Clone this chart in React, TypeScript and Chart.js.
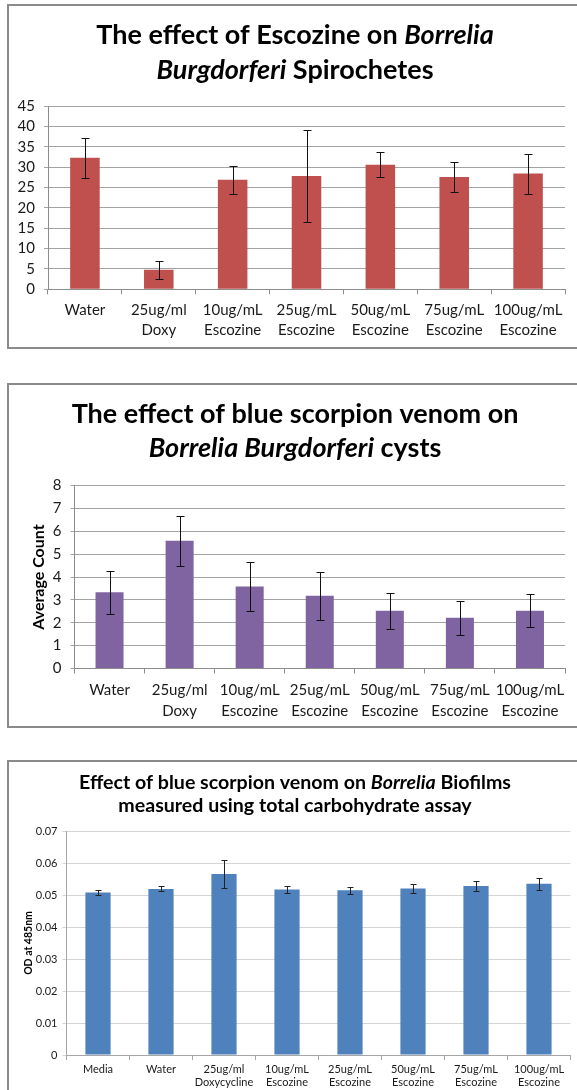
import React, { useEffect, useRef } from "react";
import { Chart, registerables } from "chart.js";

Chart.register(...registerables);

const FONT = "Lato, 'Open Sans', sans-serif";

// ---------- Chart 1: Spirochetes ----------
const spiroLabels = [
  ["Water"],
  ["25ug/ml", "Doxy"],
  ["10ug/mL", "Escozine"],
  ["25ug/mL", "Escozine"],
  ["50ug/mL", "Escozine"],
  ["75ug/mL", "Escozine"],
  ["100ug/mL", "Escozine"],
];
const spiroValues = [32.3, 4.8, 26.9, 27.8, 30.6, 27.6, 28.4];
const spiroErrors = [4.9, 2.2, 3.4, 11.2, 3.1, 3.7, 4.9];
const spiroTicks = ["0", "5", "10", "15", "20", "25", "30", "35", "40", "45"];
const spiroTitle = [
  [
    { text: "The effect of Escozine on ", italic: false },
    { text: "Borrelia", italic: true },
  ],
  [
    { text: "Burgdorferi", italic: true },
    { text: " Spirochetes", italic: false },
  ],
];

// ---------- Chart 2: Cysts ----------
const cystLabels = [
  ["Water"],
  ["25ug/ml", "Doxy"],
  ["10ug/mL", "Escozine"],
  ["25ug/mL", "Escozine"],
  ["50ug/mL", "Escozine"],
  ["75ug/mL", "Escozine"],
  ["100ug/mL", "Escozine"],
];
const cystValues = [3.33, 5.58, 3.59, 3.18, 2.53, 2.22, 2.53];
const cystErrors = [0.94, 1.1, 1.06, 1.04, 0.79, 0.74, 0.71];
const cystTicks = ["0", "1", "2", "3", "4", "5", "6", "7", "8"];
const cystYTitle = "Average Count";
const cystTitle = [
  [{ text: "The effect of blue scorpion venom on", italic: false }],
  [
    { text: "Borrelia Burgdorferi", italic: true },
    { text: " cysts", italic: false },
  ],
];

// ---------- Chart 3: Biofilms ----------
const bioLabels = [
  ["Media"],
  ["Water"],
  ["25ug/ml", "Doxycycline"],
  ["10ug/mL", "Escozine"],
  ["25ug/mL", "Escozine"],
  ["50ug/mL", "Escozine"],
  ["75ug/mL", "Escozine"],
  ["100ug/mL", "Escozine"],
];
const bioValues = [0.0508, 0.0519, 0.0566, 0.0517, 0.0515, 0.052, 0.0528, 0.0535];
const bioErrors = [0.0008, 0.0008, 0.0044, 0.0012, 0.0011, 0.0015, 0.0017, 0.0018];
const bioTicks = ["0", "0.01", "0.02", "0.03", "0.04", "0.05", "0.06", "0.07"];
const bioYTitle = "OD at 485nm";
const bioTitle = [
  [
    { text: "Effect of blue scorpion venom on ", italic: false },
    { text: "Borrelia", italic: true },
    { text: " Biofilms", italic: false },
  ],
  [{ text: "measured using total carbohydrate assay", italic: false }],
];

// ---------- plugins ----------
const richTitle = {
  id: "richTitle",
  afterDraw(chart: any, _a: any, opts: any) {
    const ctx = chart.ctx;
    ctx.save();
    ctx.fillStyle = opts.color;
    ctx.textBaseline = "alphabetic";
    ctx.textAlign = "left";
    opts.lines.forEach((segs: any[], i: number) => {
      const fonts = segs.map(
        (s) => `${s.italic ? "italic " : ""}bold ${opts.size}px ${opts.family}`
      );
      const widths = segs.map((s, j) => {
        ctx.font = fonts[j];
        return ctx.measureText(s.text).width;
      });
      const total = widths.reduce((a: number, b: number) => a + b, 0);
      let x = opts.centerX - total / 2;
      segs.forEach((s, j) => {
        ctx.font = fonts[j];
        ctx.fillText(s.text, x, opts.baselines[i]);
        x += widths[j];
      });
    });
    ctx.restore();
  },
};

const errorBars = {
  id: "errorBars",
  afterDatasetsDraw(chart: any, _a: any, opts: any) {
    const meta = chart.getDatasetMeta(0);
    const yScale = chart.scales.y;
    const ctx = chart.ctx;
    const data = chart.data.datasets[0].data;
    ctx.save();
    ctx.strokeStyle = opts.color;
    ctx.lineWidth = opts.width;
    meta.data.forEach((bar: any, i: number) => {
      const v = data[i];
      const e = opts.errors[i];
      const top = Math.round(yScale.getPixelForValue(v + e)) + 0.5;
      const bot = Math.round(yScale.getPixelForValue(v - e)) + 0.5;
      const x = Math.round(bar.x) + 0.5;
      const h = opts.cap / 2;
      ctx.beginPath();
      ctx.moveTo(x, top);
      ctx.lineTo(x, bot);
      ctx.moveTo(x - h, top);
      ctx.lineTo(x + h, top);
      ctx.moveTo(x - h, bot);
      ctx.lineTo(x + h, bot);
      ctx.stroke();
    });
    ctx.restore();
  },
};

type Spec = {
  labels: string[][];
  values: number[];
  errors: number[];
  ticks: string[];
  max: number;
  step: number;
  color: string;
  title: any[];
  titleSize: number;
  baselines: number[];
  yTitle?: string;
  yTitleSize?: number;
  yTitlePad?: number;
  yWidth: number;
  xHeight: number;
  padRight: number;
  padTop: number;
  tickSize: number;
  tickPad: number;
  tickLen: number;
  xLineHeight: number;
  xPad: number;
  gridColor: string;
  axisColor: string;
  errColor: string;
  cap: number;
  width: number;
  height: number;
};

function makeConfig(s: Spec): any {
  return {
    type: "bar",
    data: {
      labels: s.labels,
      datasets: [
        {
          data: s.values,
          backgroundColor: s.color,
          borderWidth: 0,
          categoryPercentage: 1,
          barPercentage: 0.4,
        },
      ],
    },
    plugins: [richTitle, errorBars],
    options: {
      responsive: false,
      animation: false,
      devicePixelRatio: 1,
      layout: { padding: { left: 0, right: s.padRight, top: s.padTop, bottom: 0 } },
      plugins: {
        legend: { display: false },
        tooltip: { enabled: false },
        title: { display: false },
        richTitle: {
          lines: s.title,
          size: s.titleSize,
          family: FONT,
          color: "#000",
          centerX: 286,
          baselines: s.baselines,
        },
        errorBars: { errors: s.errors, color: s.errColor, width: 1, cap: s.cap },
      },
      scales: {
        x: {
          offset: true,
          grid: {
            offset: true,
            drawOnChartArea: false,
            drawTicks: true,
            tickLength: s.tickLen + 1,
            color: s.axisColor,
          },
          border: { display: true, color: s.axisColor, width: 1 },
          ticks: {
            color: "#1a1a1a",
            padding: s.xPad,
            maxRotation: 0,
            autoSkip: false,
            font: { family: FONT, size: s.tickSize, lineHeight: `${s.xLineHeight}px` },
          },
          afterFit: (sc: any) => {
            sc.height = s.xHeight;
          },
        },
        y: {
          min: 0,
          max: s.max,
          grid: { color: s.gridColor, tickLength: s.tickLen, lineWidth: 1 },
          border: { display: true, color: s.axisColor, width: 1 },
          ticks: {
            stepSize: s.step,
            autoSkip: false,
            color: "#1a1a1a",
            padding: s.tickPad,
            font: { family: FONT, size: s.tickSize },
            callback: (_v: any, i: number) => s.ticks[i],
          },
          title: s.yTitle
            ? {
                display: true,
                text: s.yTitle,
                color: "#000",
                font: { family: FONT, size: s.yTitleSize, weight: "bold", lineHeight: 1.2 },
                padding: { top: s.yTitlePad, bottom: 0 },
              }
            : { display: false },
          afterFit: (sc: any) => {
            sc.width = s.yWidth;
          },
        },
      },
    },
  };
}

function ChartBox({ spec, top }: { spec: Spec; top: number }) {
  const ref = useRef<HTMLCanvasElement | null>(null);
  useEffect(() => {
    if (!ref.current) return;
    const chart = new Chart(ref.current, makeConfig(spec));
    return () => chart.destroy();
  }, [spec]);
  return (
    <div
      style={{
        position: "absolute",
        left: 7,
        top,
        width: spec.width,
        height: spec.height,
        border: "2px solid #8a8a8a",
        background: "#fff",
      }}
    >
      <canvas
        ref={ref}
        width={spec.width}
        height={spec.height}
        style={{ display: "block", width: spec.width, height: spec.height }}
      />
    </div>
  );
}

const spec1: Spec = {
  labels: spiroLabels,
  values: spiroValues,
  errors: spiroErrors,
  ticks: spiroTicks,
  max: 45,
  step: 5,
  color: "#C0504D",
  title: spiroTitle,
  titleSize: 27,
  baselines: [37.5, 72.5],
  yWidth: 39,
  xHeight: 57.7,
  padRight: 44,
  padTop: 100,
  tickSize: 15,
  tickPad: 9,
  tickLen: 4,
  xLineHeight: 20,
  xPad: 6,
  gridColor: "#a3a3a3",
  axisColor: "#8c8c8c",
  errColor: "#111",
  cap: 8,
  width: 600,
  height: 341,
};

const spec2: Spec = {
  labels: cystLabels,
  values: cystValues,
  errors: cystErrors,
  ticks: cystTicks,
  max: 8,
  step: 1,
  color: "#8064A2",
  title: cystTitle,
  titleSize: 27,
  baselines: [37.5, 72],
  yTitle: cystYTitle,
  yTitleSize: 16,
  yTitlePad: 20.4,
  yWidth: 65.5,
  xHeight: 57.5,
  padRight: 44,
  padTop: 100.5,
  tickSize: 15,
  tickPad: 9,
  tickLen: 4,
  xLineHeight: 21,
  xPad: 6,
  gridColor: "#a3a3a3",
  axisColor: "#8c8c8c",
  errColor: "#111",
  cap: 8,
  width: 600,
  height: 341,
};

const spec3: Spec = {
  labels: bioLabels,
  values: bioValues,
  errors: bioErrors,
  ticks: bioTicks,
  max: 0.07,
  step: 0.01,
  color: "#4F81BD",
  title: bioTitle,
  titleSize: 19.6,
  baselines: [26.5, 50],
  yTitle: bioYTitle,
  yTitleSize: 10.5,
  yTitlePad: 13.7,
  yWidth: 57.5,
  xHeight: 37,
  padRight: 38.5,
  padTop: 69,
  tickSize: 11,
  tickPad: 5,
  tickLen: 4,
  xLineHeight: 13,
  xPad: 2.5,
  gridColor: "#d4d4d4",
  axisColor: "#a6a6a6",
  errColor: "#222",
  cap: 6,
  width: 600,
  height: 330,
};

export default function App() {
  return (
    <div
      style={{
        position: "absolute",
        left: 0,
        top: 0,
        width: 577,
        height: 1090,
        overflow: "hidden",
        background: "#fff",
      }}
    >
      <ChartBox spec={spec1} top={4} />
      <ChartBox spec={spec2} top={383} />
      <ChartBox spec={spec3} top={760} />
    </div>
  );
}
